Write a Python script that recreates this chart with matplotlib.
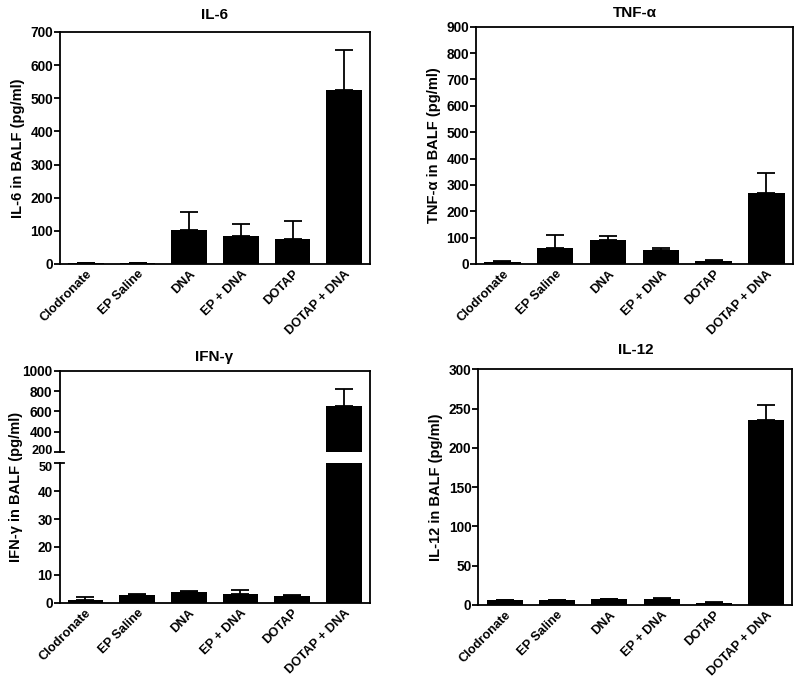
import numpy as np
import matplotlib
matplotlib.use("Agg")
import matplotlib.pyplot as plt
import matplotlib.transforms as mtrans
from matplotlib.lines import Line2D

plt.rcParams['font.family'] = ['Liberation Sans', 'DejaVu Sans']
plt.rcParams['font.weight'] = 'bold'

groups = ['Clodronate', 'EP Saline', 'DNA', 'EP + DNA', 'DOTAP', 'DOTAP + DNA']

il6_mean = [3, 4, 104, 83, 75, 525]
il6_err = [0, 0, 52, 37, 56, 120]

tnf_mean = [8, 62, 90, 52, 12, 268]
tnf_err = [2, 48, 17, 8, 2, 79]

ifn_mean = [1.0, 2.6, 3.8, 3.2, 2.4, 652]
ifn_err = [1.1, 0.5, 0.4, 1.4, 0.4, 172]

il12_mean = [6, 6, 7, 7.5, 3, 236]
il12_err = [0.4, 0.4, 0.4, 1.0, 0.5, 18]

x = np.arange(len(groups))
W = 0.69
TS = 9.8   # tick label size
XS = 9.2   # x label size
LS = 10.5  # y label size


def style(ax, xlabels=True):
    for s in ax.spines.values():
        s.set_linewidth(1.3)
    ax.tick_params(axis='y', direction='out', length=4, width=1.3, labelsize=TS, pad=1)
    ax.tick_params(axis='x', length=0, labelsize=XS, pad=3)
    ax.set_xlim(-0.5, len(groups) - 0.5)
    if xlabels:
        ax.set_xticks(x)
        ax.set_xticklabels(groups, rotation=45, ha='right', rotation_mode='anchor', fontweight='bold')
    else:
        ax.set_xticks([])
    for lab in ax.get_yticklabels():
        lab.set_fontweight('bold')


def bars(ax, mean, err):
    ax.bar(x, mean, W, color='black', zorder=2)
    ax.errorbar(x, mean, yerr=[np.zeros(len(err)), err], fmt='none', ecolor='black',
                elinewidth=1.3, capsize=6.5, capthick=1.3, zorder=1)


fig = plt.figure(figsize=(8, 6.85), dpi=100)

# IL-6
ax1 = fig.add_axes([0.075, 0.6146, 0.3875, 0.3387])
bars(ax1, il6_mean, il6_err)
ax1.set_ylim(0, 700)
ax1.set_yticks(np.arange(0, 701, 100))
style(ax1)
ax1.set_ylabel('IL-6 in BALF (pg/ml)', fontsize=LS, fontweight='bold', labelpad=4)
ax1.set_title('IL-6', fontsize=11, fontweight='bold', pad=9)

# TNF-a
ax2 = fig.add_axes([0.595, 0.6146, 0.396, 0.3464])
bars(ax2, tnf_mean, tnf_err)
ax2.set_ylim(0, 900)
ax2.set_yticks(np.arange(0, 901, 100))
style(ax2)
ax2.set_ylabel('TNF-α in BALF (pg/ml)', fontsize=LS, fontweight='bold', labelpad=4)
ax2.set_title('TNF-α', fontsize=11, fontweight='bold', pad=7)

# IFN-g, broken axis
ax3t = fig.add_axes([0.0744, 0.3401, 0.3875, 0.1187])
ax3b = fig.add_axes([0.0744, 0.1201, 0.3875, 0.2035])
bars(ax3t, ifn_mean, ifn_err)
bars(ax3b, ifn_mean, ifn_err)
ax3t.set_ylim(200, 1000)
ax3t.set_yticks([200, 400, 600, 800, 1000])
ax3b.set_ylim(0, 50)
ax3b.set_yticks([0, 10, 20, 30, 40, 50])
style(ax3t, xlabels=False)
style(ax3b)
ax3t.spines['bottom'].set_visible(False)
ax3b.spines['top'].set_visible(False)
ax3t.spines['right'].set_visible(False)
ax3b.spines['right'].set_visible(False)

# nudge the two labels at the break apart so they do not collide
fig.canvas.draw()
lab200 = ax3t.get_yticklabels()[0]
lab50 = ax3b.get_yticklabels()[-1]
for lab, dy in [(lab200, 2.0), (lab50, -2.0)]:
    lab.set_fontsize(9.2)
    lab.set_transform(lab.get_transform() + mtrans.ScaledTranslation(0, dy / 72, fig.dpi_scale_trans))

# continuous right border
fig.add_artist(Line2D([0.0744 + 0.3875] * 2, [0.1201, 0.3401 + 0.1187], color='black', lw=1.3,
                      transform=fig.transFigure))
# break marks
for yy in [0.3401, 0.1201 + 0.2035]:
    fig.add_artist(Line2D([0.0744, 0.0744 + 0.006], [yy, yy], color='black', lw=1.3,
                          transform=fig.transFigure))
ax3t.set_title('IFN-γ', fontsize=11, fontweight='bold', pad=7)
fig.text(0.020, (0.1201 + 0.3401 + 0.1187) / 2, 'IFN-γ in BALF (pg/ml)', rotation=90,
         ha='center', va='center', fontsize=LS, fontweight='bold')

# IL-12
ax4 = fig.add_axes([0.598, 0.1168, 0.3925, 0.344])
bars(ax4, il12_mean, il12_err)
ax4.set_ylim(0, 300)
ax4.set_yticks(np.arange(0, 301, 50))
style(ax4)
ax4.set_ylabel('IL-12 in BALF (pg/ml)', fontsize=LS, fontweight='bold', labelpad=4)
ax4.set_title('IL-12', fontsize=11, fontweight='bold', pad=11)

fig.savefig('out.png', dpi=100)
